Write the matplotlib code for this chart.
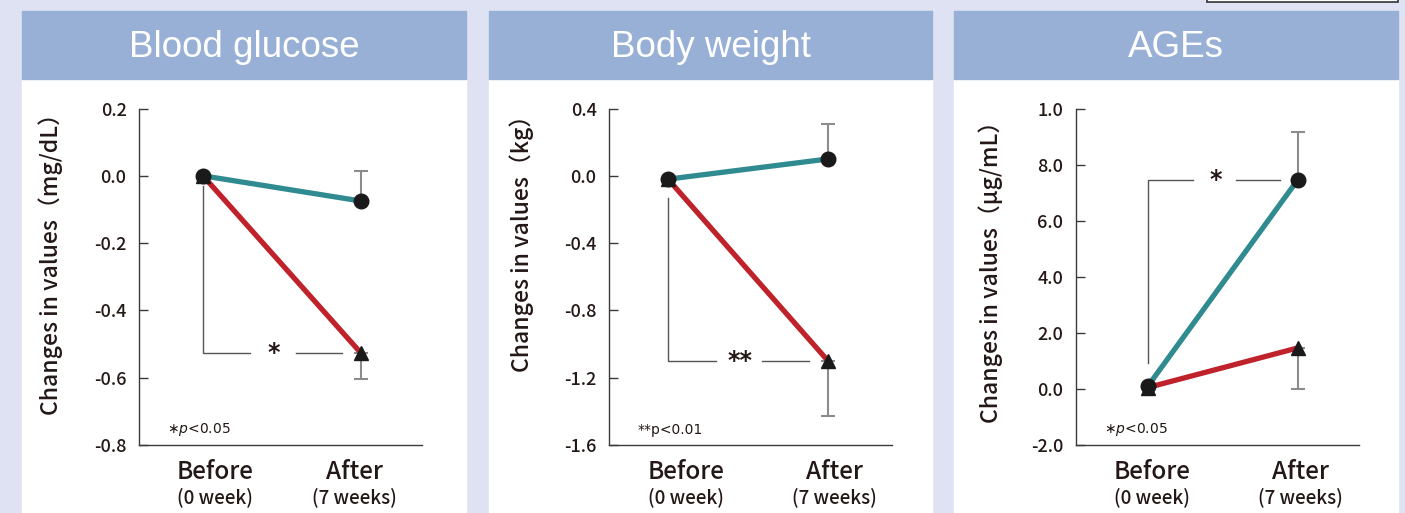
#!/usr/bin/env python
"""
Changes in blood glucose, body weight and AGEs before / after 7 weeks.
Three panels with blue header bars on a lavender page.
"""

import matplotlib
matplotlib.use('Agg')
import matplotlib.pyplot as plt
from matplotlib.patches import Rectangle
from matplotlib.transforms import blended_transform_factory

W, H = 1405, 513

# ------------ DATA ----------------------------

titles = ['Blood glucose', 'Body weight', 'AGEs']
ylabels = ['Changes in values（mg/dL）',
           'Changes in values（kg）',
           'Changes in values（μg/mL）']
x_labels = ['Before', 'After']
x_sublabels = ['(0 week)', '(7 weeks)']

# mean changes at Before / After
glucose_ctrl = [0.0, -0.075]
glucose_test = [0.0, -0.527]
weight_ctrl = [-0.02, 0.10]
weight_test = [-0.02, -1.10]
ages_ctrl = [0.10, 7.45]
ages_test = [0.05, 1.46]

# one-sided error bars at After (ctrl up, test down)
glucose_err = [0.09, 0.077]
weight_err = [0.21, 0.33]
ages_err = [1.70, 1.46]

glucose_ticks = [-0.8, -0.6, -0.4, -0.2, 0.0, 0.2]
glucose_ticklabels = ['-0.8', '-0.6', '-0.4', '-0.2', '0.0', '0.2']
weight_ticks = [-1.6, -1.2, -0.8, -0.4, 0.0, 0.4]
weight_ticklabels = ['-1.6', '-1.2', '-0.8', '-0.4', '0.0', '0.4']
ages_ticks = [-2.0, 0.0, 2.0, 4.0, 6.0, 8.0, 10.0]
ages_ticklabels = ['-2.0', '0.0', '2.0', '4.0', '6.0', '8.0', '1.0']

stars = ['*', '**', '*']
sig_group = ['test', 'test', 'ctrl']
notes = [r'$\ast\mathit{p}$<0.05', '**p<0.01', r'$\ast\mathit{p}$<0.05']

# ------------ STYLE ----------------------------

BG = '#dee2f3'
HEAD = '#98b0d6'
TEAL = '#2f8b8f'
RED = '#c0222b'
INK = '#231815'
GRAY = '#8c8c8c'
JP = ['Noto Sans CJK JP', 'DejaVu Sans']

panels_px = [(22, 466), (489, 932), (954, 1398)]
axes_px = [(139, 422), (609, 892), (1076, 1359)]
axes_top, axes_bot = 108.5, 445
xlims = [(-0.405, 1.386), (-0.369, 1.40), (-0.48, 1.41)]
label_x = [(0.076, 0.96), (0.11, 1.04), (0.03, 1.02)]
ylabel_pos = [(-0.27, 0.555), (-0.265, 0.615), (-0.258, 0.53)]


def fx(x):
    return x / W


def fy(y):
    return 1 - y / H


def draw_panel(fig, i, ctrl, test, errs, ticks, ticklabels):
    px0, px1 = panels_px[i]
    fig.patches.append(Rectangle((fx(px0), 0), fx(px1 - px0), fy(79),
                                 transform=fig.transFigure, color='white', zorder=-2))
    fig.patches.append(Rectangle((fx(px0), fy(79)), fx(px1 - px0), (79 - 11) / H,
                                 transform=fig.transFigure, color=HEAD, zorder=-2))
    fig.text(fx((px0 + px1) / 2), fy(57), titles[i], color='white', fontsize=26.5,
             family='Liberation Sans', ha='center', va='baseline')

    a0, a1 = axes_px[i]
    ax = fig.add_axes([fx(a0), fy(axes_bot), fx(a1 - a0), (axes_bot - axes_top) / H])
    ax.set_facecolor('none')
    ax.set_xlim(*xlims[i])
    ax.set_ylim(ticks[0], ticks[-1])
    for s in ['top', 'right']:
        ax.spines[s].set_visible(False)
    for s in ['left', 'bottom']:
        ax.spines[s].set_color('#3a3a3a')
        ax.spines[s].set_linewidth(1.0)
    ax.set_xticks([])
    ax.set_yticks(ticks)
    ax.set_yticklabels(ticklabels, family=JP, fontsize=13, fontweight='medium', color=INK)
    ax.tick_params(axis='y', direction='in', length=6.5, width=1.0,
                   color='#3a3a3a', pad=9)

    ax.set_ylabel(ylabels[i], family=JP, fontsize=16.5, fontweight='medium', color=INK)
    ax.yaxis.set_label_coords(*ylabel_pos[i])

    x = [0, 1]
    # error bars (one-sided)
    ax.errorbar(1, ctrl[1], yerr=[[0], [errs[0]]], fmt='none', ecolor=GRAY,
                elinewidth=1.5, capsize=4.7, capthick=1.5, zorder=2, clip_on=False)
    ax.errorbar(1, test[1], yerr=[[errs[1]], [0]], fmt='none', ecolor=GRAY,
                elinewidth=1.5, capsize=4.7, capthick=1.5, zorder=2, clip_on=False)

    ax.plot(x, ctrl, color=TEAL, lw=3.8, zorder=3, solid_capstyle='butt', clip_on=False)
    ax.plot(x, test, color=RED, lw=3.8, zorder=4, solid_capstyle='butt', clip_on=False)
    ax.plot(x, test, ls='none', marker='^', ms=10.5, color='#1a1a1a', zorder=5, clip_on=False)
    ax.plot(x, ctrl, ls='none', marker='o', ms=10.5, color='#1a1a1a', zorder=6, clip_on=False)

    # significance bracket
    sig = test if sig_group[i] == 'test' else ctrl
    span = ticks[-1] - ticks[0]
    yb = sig[1]
    if yb < sig[0]:
        yv = sig[0] - 0.03 * span if i == 0 else sig[0] - 0.11 * span / 2
    else:
        yv = sig[0] + 0.07 * span
    ax.plot([0, 0, 0.30], [yv, yb, yb], color='#555555', lw=1.0, zorder=1)
    ax.plot([0.59, 0.88], [yb, yb], color='#555555', lw=1.0, zorder=1)
    ax.text(0.45, yb, stars[i], fontsize=17, fontweight='bold', color=INK,
            ha='center', va='center', family='DejaVu Sans')

    ax.text(0.10, 0.045, notes[i], transform=ax.transAxes, fontsize=10,
            color=INK, ha='left', va='center')

    tr = blended_transform_factory(ax.transData, fig.transFigure)
    for k in range(2):
        ax.text(label_x[i][k], fy(472), x_labels[k], transform=tr, family=JP,
                fontsize=17.5, fontweight='medium', color=INK, ha='center', va='center')
        ax.text(label_x[i][k], fy(497), x_sublabels[k], transform=tr, family=JP,
                fontsize=13.5, fontweight='medium', color=INK, ha='center', va='center')
    return ax


def main():
    fig = plt.figure(figsize=(W / 100, H / 100), dpi=100, facecolor=BG)
    # edge of a box cut off at the top right
    fig.patches.append(Rectangle((fx(1207), fy(1.7)), fx(1398 - 1207), 0.05,
                                 transform=fig.transFigure, facecolor='white',
                                 edgecolor='#333333', lw=1.2, zorder=-2))

    draw_panel(fig, 0, glucose_ctrl, glucose_test, glucose_err,
               glucose_ticks, glucose_ticklabels)
    draw_panel(fig, 1, weight_ctrl, weight_test, weight_err,
               weight_ticks, weight_ticklabels)
    draw_panel(fig, 2, ages_ctrl, ages_test, ages_err,
               ages_ticks, ages_ticklabels)

    fig.savefig('out.png', dpi=100, facecolor=BG)


if __name__ == "__main__":
    main()
